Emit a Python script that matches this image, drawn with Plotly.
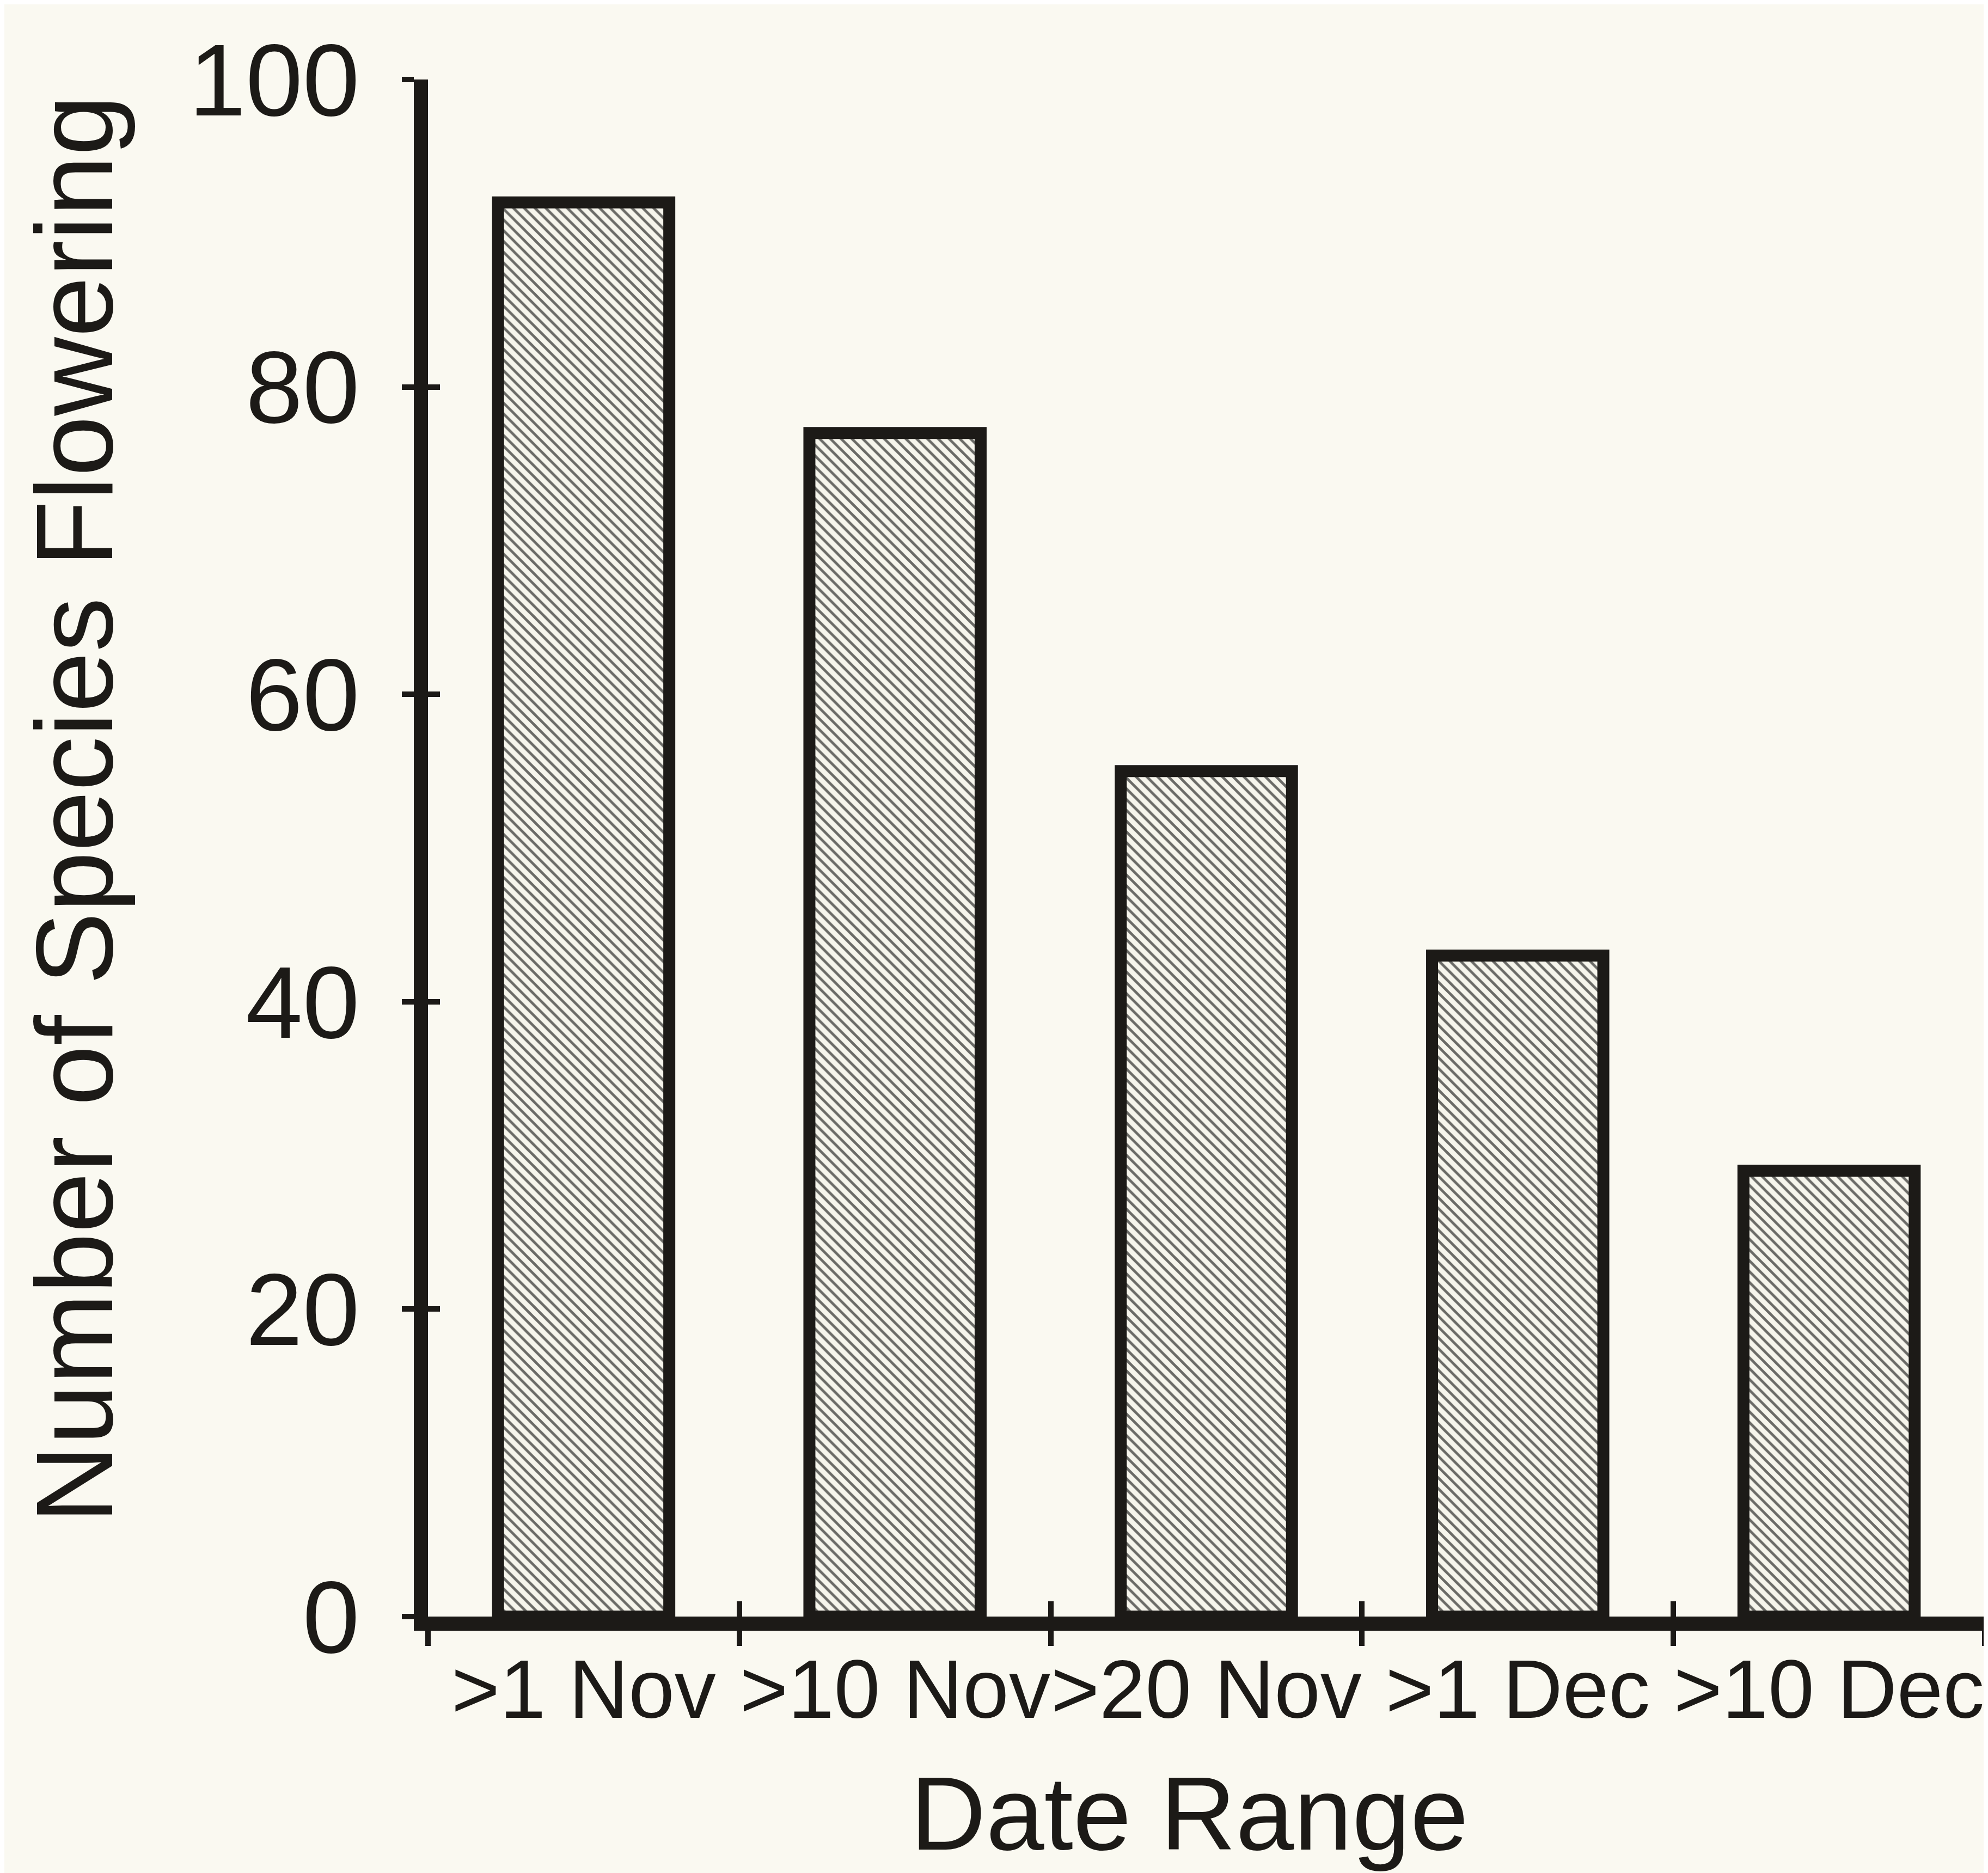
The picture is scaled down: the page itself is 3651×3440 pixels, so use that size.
import plotly.graph_objects as go

categories = [">1 Nov", ">10 Nov", ">20 Nov", ">1 Dec", ">10 Dec"]
species_flowering = [92, 77, 55, 43, 29]
y_tick_values = [0, 20, 40, 60, 80, 100]

BG = "#faf9f1"
INK = "#1c1a17"
FONT = "Liberation Sans, Arial, sans-serif"

fig = go.Figure()
fig.add_trace(go.Bar(
    x=categories,
    y=species_flowering,
    marker=dict(
        color="#f6f5ec",
        line=dict(color=INK, width=22),
        pattern=dict(shape="\\", fgcolor="#6a6a66", bgcolor="#f6f5ec",
                     size=14, solidity=0.34, fillmode="replace"),
    ),
    showlegend=False,
))
# empty trace so the overlay axes (inner tick halves) are drawn
fig.add_trace(go.Scatter(x=[], y=[], xaxis="x2", yaxis="y2", showlegend=False))

fig.update_layout(
    width=3651, height=3440,
    paper_bgcolor=BG, plot_bgcolor=BG,
    margin=dict(l=778, r=14, t=138, b=479, autoexpand=False),
    bargap=0.45,
    font=dict(family=FONT, color=INK),
    xaxis=dict(
        type="category", range=[-0.5, 4.5], automargin=False, tickangle=0,
        tickson="boundaries", ticks="outside", ticklen=28, tickwidth=10, tickcolor=INK,
        showline=True, linewidth=26, linecolor=INK,
        showgrid=False, zeroline=False,
        tickfont=dict(size=152, family=FONT, color=INK),
        ticklabelstandoff=-22,
    ),
    yaxis=dict(
        range=[0, 100], tickvals=y_tick_values, automargin=False,
        ticks="outside", ticklen=22, tickwidth=10, tickcolor=INK,
        showline=True, linewidth=26, linecolor=INK,
        showgrid=False, zeroline=False,
        tickfont=dict(size=188, family=FONT, color=INK),
        ticklabelstandoff=40,
    ),
    xaxis2=dict(
        overlaying="x", range=[-0.5, 4.5], tickvals=[-0.5, 0.5, 1.5, 2.5, 3.5, 4.5],
        ticks="inside", ticklen=28, tickwidth=10, tickcolor=INK, automargin=False,
        showticklabels=False, showline=False, showgrid=False, zeroline=False,
    ),
    yaxis2=dict(
        overlaying="y", range=[0, 100], tickvals=y_tick_values, automargin=False,
        ticks="inside", ticklen=22, tickwidth=10, tickcolor=INK,
        showticklabels=False, showline=False, showgrid=False, zeroline=False,
    ),
    annotations=[
        dict(text="Date Range", xref="paper", yref="paper", x=0.489, y=-0.128,
             xanchor="center", yanchor="middle", showarrow=False,
             font=dict(size=192, family=FONT, color=INK)),
        dict(text="Number of Species Flowering", xref="paper", yref="paper",
             x=-0.227, y=0.525, textangle=-90, xanchor="center", yanchor="middle",
             showarrow=False, font=dict(size=200, family=FONT, color=INK)),
    ],
)

fig.write_html("out.html")
